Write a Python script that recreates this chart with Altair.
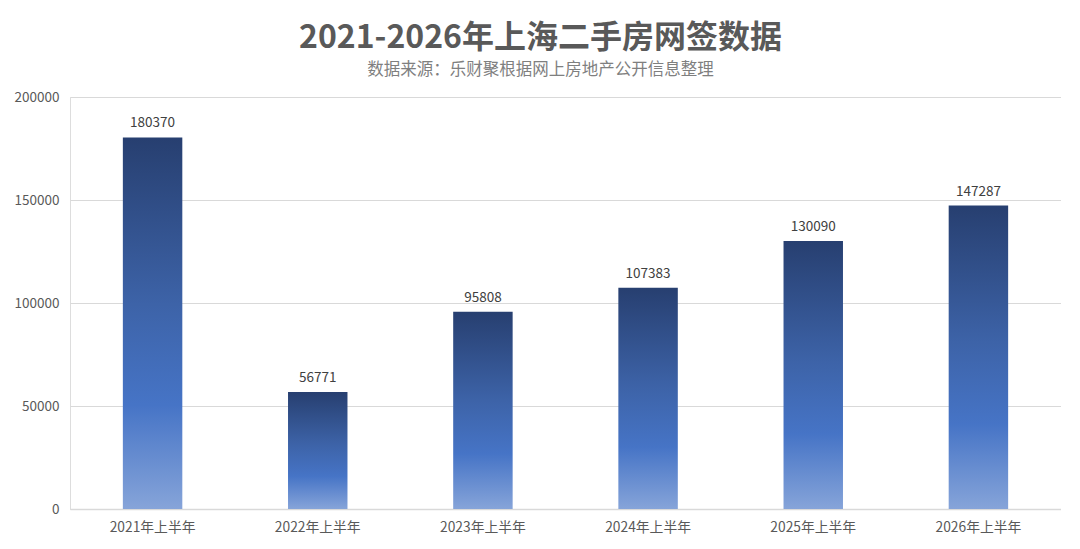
import altair as alt
import pandas as pd

categories = ["2021年上半年", "2022年上半年", "2023年上半年", "2024年上半年", "2025年上半年", "2026年上半年"]
values = [180370, 56771, 95808, 107383, 130090, 147287]

df = pd.DataFrame({"cat": categories, "val": values})

FONT = "Noto Sans CJK SC"

gradient = alt.Gradient(
    gradient="linear",
    x1=0, y1=0, x2=0, y2=1,
    stops=[
        alt.GradientStop(color="#273f70", offset=0),
        alt.GradientStop(color="#3d63a8", offset=0.45),
        alt.GradientStop(color="#4674c6", offset=0.72),
        alt.GradientStop(color="#86a4d9", offset=1),
    ],
)

base = alt.Chart(df).encode(
    x=alt.X("cat:N", sort=categories, title=None,
            scale=alt.Scale(paddingInner=0.64, paddingOuter=0.32),
            axis=alt.Axis(labelAngle=0, labelFont=FONT, labelFontSize=13.8, labelColor="#595959",
                          domainColor="#d9d9d9", domainWidth=1.5, ticks=False, labelPadding=11)),
    y=alt.Y("val:Q", title=None,
            scale=alt.Scale(domain=[0, 200000], nice=False),
            axis=alt.Axis(values=[0, 50000, 100000, 150000, 200000], format="d",
                          labelFont=FONT, labelFontSize=13.5, labelColor="#595959",
                          gridColor="#d9d9d9", gridWidth=1.2, domain=False, ticks=False,
                          labelPadding=11)),
)

bars = base.mark_bar(color=gradient)
labels = base.mark_text(dy=-14, font=FONT, fontSize=13.5, color="#404040").encode(text="val:Q")

chart = (bars + labels).properties(
    width=991,
    height=412,
    title=alt.TitleParams(
        text="2021-2026年上海二手房网签数据",
        subtitle="数据来源：乐财聚根据网上房地产公开信息整理",
        font=FONT, fontSize=32, fontWeight="bold", color="#595959",
        subtitleFont=FONT, subtitleFontSize=16.5, subtitleColor="#7f7f7f",
        subtitlePadding=7,
        anchor="middle", dx=-25, offset=11,
    ),
    autosize=alt.AutoSizeParams(type="none"),
    padding={"left": 62, "top": 89, "right": 0, "bottom": 32},
).configure_view(stroke=None).configure(background="white")

chart.save("out.html", embed_options={"renderer": "svg", "actions": False})
